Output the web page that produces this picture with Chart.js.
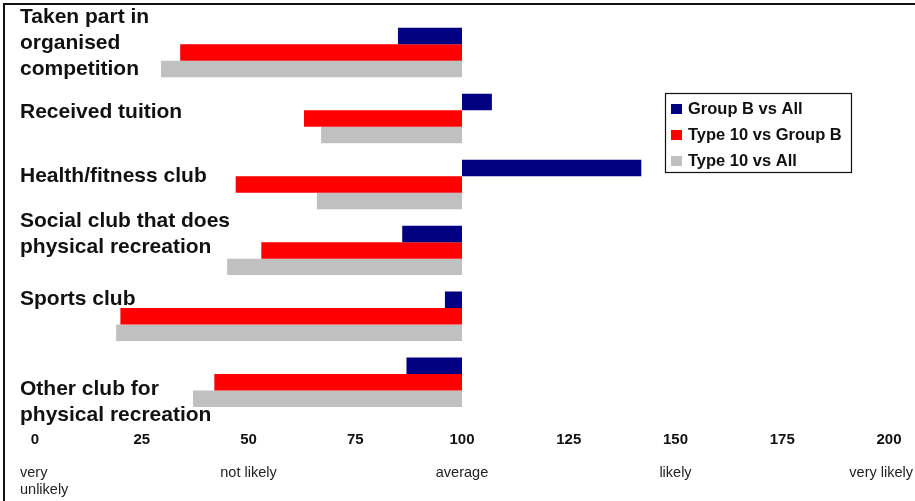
<!DOCTYPE html>
<html>
<head>
<meta charset="utf-8">
<title>Club participation likelihood</title>
<script src="https://cdn.jsdelivr.net/npm/chart.js@4.4.1/dist/chart.umd.min.js"></script>
<style>
  html, body { margin: 0; padding: 0; background: #fff; }
  #wrap { position: relative; width: 915px; height: 501px; }
  #frame { position: absolute; left: 3px; top: 3px; right: 0; bottom: 0;
           border-top: 2px solid #111; border-left: 2px solid #111; pointer-events: none; }
  canvas { position: absolute; left: 0; top: 0; }
</style>
</head>
<body>
<div id="wrap">
  <canvas id="chart" width="915" height="501"></canvas>
  <div id="frame"></div>
</div>
<script>
// ─── Data ───────────────────────────────────────────
const categories = [
  ['Taken part in', 'organised', 'competition'],
  ['Received tuition'],
  ['Health/fitness club'],
  ['Social club that does', 'physical recreation'],
  ['Sports club'],
  ['Other club for', 'physical recreation']
];
const seriesNames = ['Group B vs All', 'Type 10 vs Group B', 'Type 10 vs All'];
const groupBvsAll   = [85, 107, 142, 86, 96, 87];
const type10vsGroupB = [34, 63, 47, 53, 20, 42];
const type10vsAll   = [29.5, 67, 66, 45, 19, 37];
const baseline = 100;

const xTicks = [0, 25, 50, 75, 100, 125, 150, 175, 200];
const scaleWords = [[0, ['very', 'unlikely']], [50, ['not likely']], [100, ['average']], [150, ['likely']], [200, ['very likely']]];

// ─── Helpers ────────────────────────────────────────
const SANS = '"Liberation Sans", Arial, sans-serif';
const colors = ['#000080', '#ff0000', '#c0c0c0'];
const toFloat = arr => arr.map(v => [Math.min(v, baseline), Math.max(v, baseline)]);

// per-category nudge of the text block (baseline of first line vs. bar centre)
const labelNudge = [-29, 0, -2.5, -23.5, -11.5, 12.5];

const categoryLabels = {
  id: 'categoryLabels',
  afterDatasetsDraw(chart) {
    const { ctx, scales: { y } } = chart;
    ctx.save();
    ctx.font = 'bold 21px ' + SANS;
    ctx.fillStyle = '#111';
    ctx.textAlign = 'left';
    ctx.textBaseline = 'alphabetic';
    categories.forEach((lines, i) => {
      const yc = y.getPixelForValue(i) + labelNudge[i];
      lines.forEach((t, k) => ctx.fillText(t, 20, yc + k * 26));
    });
    ctx.restore();
  }
};

const scaleWordsPlugin = {
  id: 'scaleWords',
  afterDraw(chart) {
    const { ctx, scales: { x } } = chart;
    ctx.save();
    ctx.font = '14.5px ' + SANS;
    ctx.fillStyle = '#222';
    ctx.textBaseline = 'alphabetic';
    scaleWords.forEach(([v, lines]) => {
      const w = Math.max(...lines.map(l => ctx.measureText(l).width));
      let left = x.getPixelForValue(v) - w / 2;
      left = Math.max(20, Math.min(left, 913 - w));
      lines.forEach((l, k) => ctx.fillText(l, left, 476.5 + k * 17));
    });
    ctx.restore();
  }
};

const boxLegend = {
  id: 'boxLegend',
  afterDraw(chart) {
    const { ctx } = chart;
    const L = 665.5, T = 93.5, W = 186, H = 79;
    ctx.save();
    ctx.strokeStyle = '#111';
    ctx.lineWidth = 1.2;
    ctx.strokeRect(L, T, W, H);
    ctx.font = 'bold 16.5px ' + SANS;
    ctx.textBaseline = 'alphabetic';
    chart.data.datasets.forEach((ds, i) => {
      const base = 114 + i * 26;
      ctx.fillStyle = ds.backgroundColor;
      ctx.fillRect(671, base - 10, 11, 10);
      ctx.fillStyle = '#111';
      ctx.fillText(ds.label, 688, base);
    });
    ctx.restore();
  }
};

// ─── Chart ──────────────────────────────────────────
new Chart(document.getElementById('chart'), {
  type: 'bar',
  data: {
    labels: categories.map(c => c.join(' ')),
    datasets: [groupBvsAll, type10vsGroupB, type10vsAll].map((arr, i) => ({
      label: seriesNames[i],
      data: toFloat(arr),
      backgroundColor: colors[i],
      borderWidth: 0,
      categoryPercentage: 0.75,
      barPercentage: 1.0
    }))
  },
  options: {
    indexAxis: 'y',
    responsive: false,
    animation: false,
    layout: { padding: { left: 35, right: 26, top: 19.5, bottom: 35.7 } },
    plugins: { legend: { display: false }, tooltip: { enabled: false } },
    scales: {
      y: { display: false, offset: true },
      x: {
        min: 0, max: 200,
        afterBuildTicks: s => { s.ticks = xTicks.map(v => ({ value: v })); },
        // the tick padding otherwise inflates the right-hand margin
        afterFit: s => { s.paddingLeft = 0; s.paddingRight = 0; },
        grid: { display: false, drawTicks: false },
        border: { display: false },
        ticks: {
          padding: 16,
          maxRotation: 0,
          color: '#111',
          font: { family: SANS, size: 15, weight: 'bold' }
        }
      }
    }
  },
  plugins: [categoryLabels, scaleWordsPlugin, boxLegend]
});
</script>
</body>
</html>
